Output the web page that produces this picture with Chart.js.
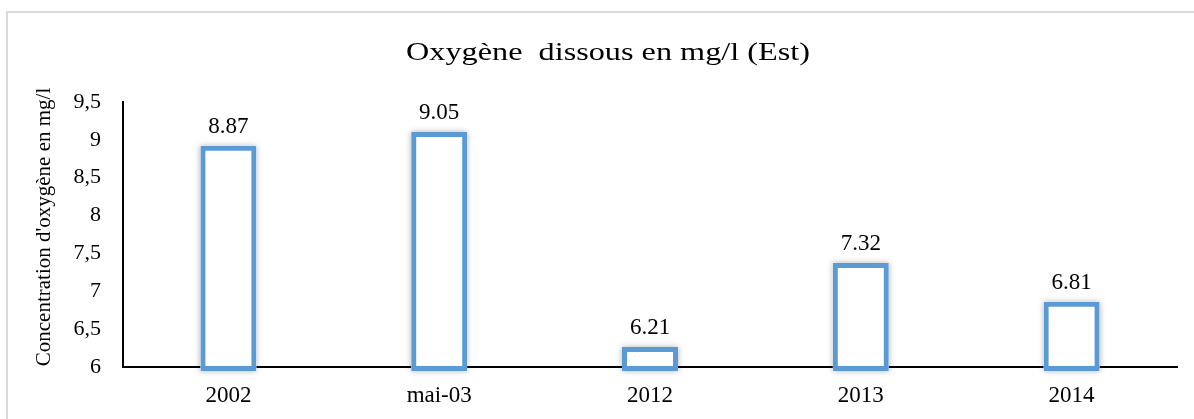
<!DOCTYPE html>
<html>
<head>
<meta charset="utf-8">
<script src="https://cdn.jsdelivr.net/npm/chart.js@4.4.0/dist/chart.umd.min.js"></script>
<style>
  html, body { margin: 0; padding: 0; background: #fff; }
  #wrap { position: relative; width: 1194px; height: 419px; overflow: hidden; }
  /* cadre gris du graphique (coupé à droite et en bas) */
  #frame { position: absolute; left: 6px; top: 11px; width: 1300px; height: 500px;
           border-left: 2px solid #d9d9d9; border-top: 2px solid #d9d9d9; }
  #chart { position: absolute; left: 0; top: 0; }
</style>
</head>
<body>
<div id="wrap">
  <div id="frame"></div>
  <canvas id="chart" width="1194" height="419"></canvas>
</div>
<script>
// --- DONNÉES ---
const categories = ['2002', 'mai-03', '2012', '2013', '2014'];
const oxygenValues = [8.87, 9.05, 6.21, 7.32, 6.81];
const valueLabels = ['8.87', '9.05', '6.21', '7.32', '6.81'];
const yTicks = [6, 6.5, 7, 7.5, 8, 8.5, 9, 9.5];
const chartTitle = 'Oxygène  dissous en mg/l (Est)';
const yTitle = "Concentration d'oxygène en mg/l";

const SERIF = '"Liberation Serif", "Times New Roman", serif';
const BAR_INFLATE = 4;

Chart.defaults.font.family = SERIF;
Chart.defaults.color = '#000';

// halo gris léger autour des barres (comme l'effet d'ombre Excel)
const barGlow = {
    id: 'barGlow',
    beforeDatasetsDraw(chart) {
        const ctx = chart.ctx;
        const meta = chart.getDatasetMeta(0);
        ctx.save();
        ctx.shadowColor = 'rgba(0, 0, 0, 0.3)';
        ctx.shadowBlur = 6;
        ctx.fillStyle = '#fff';
        meta.data.forEach(bar => {
            const { x, y, base, width } = bar.getProps(['x', 'y', 'base', 'width'], true);
            ctx.fillRect(x - width / 2 - BAR_INFLATE, y - BAR_INFLATE,
                         width + 2 * BAR_INFLATE, base - y + 2 * BAR_INFLATE);
        });
        ctx.restore();
    }
};

// étiquettes de valeur au-dessus des barres
const valueLabelsPlugin = {
    id: 'valueLabels',
    afterDatasetsDraw(chart) {
        const ctx = chart.ctx;
        const meta = chart.getDatasetMeta(0);
        ctx.save();
        ctx.font = '23px ' + SERIF;
        ctx.fillStyle = '#000';
        ctx.textAlign = 'center';
        ctx.textBaseline = 'alphabetic';
        meta.data.forEach((bar, i) => {
            ctx.fillText(valueLabels[i], bar.x, bar.y - 17);
        });
        ctx.restore();
    }
};

// titre (légèrement étiré horizontalement) + titre de l'axe Y
const texts = {
    id: 'texts',
    afterDraw(chart) {
        const ctx = chart.ctx;
        ctx.save();
        ctx.fillStyle = '#000';
        ctx.textAlign = 'center';
        ctx.textBaseline = 'alphabetic';
        ctx.font = '26px ' + SERIF;
        ctx.translate(608, 60);
        ctx.scale(1.24, 1);
        ctx.fillText(chartTitle, 0, 0);
        ctx.restore();

        ctx.save();
        ctx.fillStyle = '#000';
        ctx.font = '21px ' + SERIF;
        ctx.textAlign = 'center';
        ctx.textBaseline = 'middle';
        ctx.translate(44, 227);
        ctx.rotate(-Math.PI / 2);
        ctx.fillText(yTitle, 0, 0);
        ctx.restore();
    }
};

new Chart(document.getElementById('chart'), {
    type: 'bar',
    data: {
        labels: categories,
        datasets: [{
            data: oxygenValues,
            base: 6,
            clip: false,
            backgroundColor: '#fff',
            borderColor: '#5b9bd5',
            borderWidth: 5,
            borderSkipped: false,
            inflateAmount: BAR_INFLATE,
            barThickness: 48
        }]
    },
    options: {
        responsive: false,
        animation: false,
        devicePixelRatio: 1,
        layout: { padding: { top: 102, right: 17, bottom: 0, left: 0 } },
        plugins: {
            legend: { display: false },
            tooltip: { enabled: false },
            title: { display: false }
        },
        scales: {
            x: {
                grid: { display: false, drawTicks: false },
                border: { display: true, color: '#000', width: 2 },
                ticks: { color: '#000', font: { size: 23 }, padding: 15 },
                afterFit: s => { s.height = 52; }
            },
            y: {
                min: 6,
                max: 9.5,
                grid: { display: false, drawTicks: false },
                border: { display: true, color: '#000', width: 2 },
                ticks: {
                    color: '#000',
                    font: { size: 22 },
                    padding: 22,
                    callback: v => String(v).replace('.', ',')
                },
                afterBuildTicks: s => { s.ticks = yTicks.map(v => ({ value: v })); },
                afterFit: s => { s.width = 123; }
            }
        }
    },
    plugins: [barGlow, valueLabelsPlugin, texts]
});
</script>
</body>
</html>
